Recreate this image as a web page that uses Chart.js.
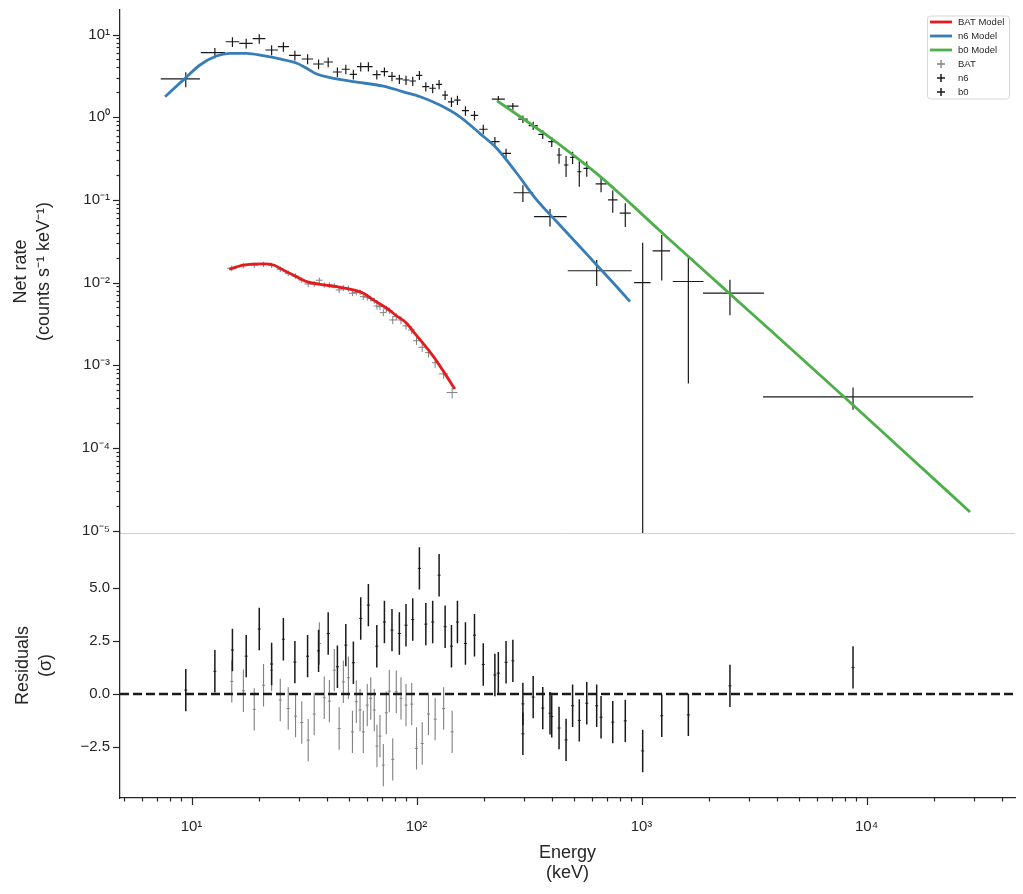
<!DOCTYPE html>
<html><head><meta charset="utf-8">
<script src="https://cdn.jsdelivr.net/npm/chart.js@4/dist/chart.umd.min.js"></script>
<style>
html,body{margin:0;padding:0;background:#fff;}
#wrap{position:relative;width:1023px;height:894px;overflow:hidden;background:#fff;}
canvas{position:absolute;left:0;}
#cTop{top:0;}
#cBot{top:523px;}
</style></head><body>
<div id="wrap"><canvas id="cTop" width="1023" height="560"></canvas><canvas id="cBot" width="1023" height="371"></canvas></div>
<script>
// ---------------- data ----------------
const xTickValues = [10, 100, 1000, 10000];
const xTickLabels = ['10¹', '10²', '10³', '10⁴'];
const yTickValues = [1e-5, 1e-4, 1e-3, 1e-2, 1e-1, 1, 10];
const yTickLabels = ['10⁻⁵', '10⁻⁴', '10⁻³', '10⁻²', '10⁻¹', '10⁰', '10¹'];
const residTickValues = [-2.5, 0, 2.5, 5];
const residTickLabels = ['−2.5', '0.0', '2.5', '5.0'];

// models
const batModelE = [14.7,17.0,20.8,23.3,24.7,28.3,32.5,37.2,44.2,52.4,58.0,64.3,73.8,81.7,90.4,96.8,107,119,132,148];
const batModelRate = [0.01449,0.0162,0.0168,0.0162,0.0149,0.01236,0.01025,0.00953,0.00891,0.00814,0.00743,0.00617,0.00489,0.00394,0.00322,0.00255,0.00184,0.00127,0.000837,0.000516];
const n6ModelE = [7.63,9.36,10.9,12.9,14.8,17.6,20.8,24.7,29.4,32.5,36.0,41.3,52.4,71.2,87.3,104,127,156,191,227,279,342,420,515,632,776,889];
const n6ModelRate = [1.77,2.95,4.28,5.50,5.93,5.93,5.55,5.06,4.49,3.90,3.33,3.01,2.69,2.38,2.03,1.77,1.40,1.01,0.638,0.421,0.210,0.0998,0.0544,0.0299,0.0163,0.00891,0.00587];
const b0ModelE = [228,288,372,481,621,803,1036,1339,1820,2740,5063,8710,14090,28840];
const b0ModelRate = [1.58,1.02,0.627,0.374,0.217,0.118,0.0621,0.0327,0.01545,0.00566,0.00126,0.000331,1.0e-4,1.68e-5];

// n6 data
const n6E = [9.43,12.7,15.2,17.5,20.0,22.7,25.6,28.8,32.8,36.7,40.5,44.5,48.5,52.4,56.5,61.1,66.6,72.0,77.8,83.9,89.8,96.2,103,110,118,126,134,143,152,165,181,198,223,250,297,392,632];
const n6ELo = [7.30,11.0,14.2,16.3,18.7,21.3,24.2,27.1,30.9,34.7,38.7,42.5,46.5,50.5,54.4,58.8,63.8,69.3,74.8,80.8,86.9,93.0,99.5,106,114,122,130,138,147,159,174,190,212,238,270,333,470];
const n6EHi = [10.9,14.1,16.3,18.7,21.3,24.2,27.1,30.6,34.7,38.7,42.5,46.5,50.5,54.4,58.8,63.8,69.3,74.8,80.8,86.9,93.0,99.5,106,114,122,130,138,147,157,171,188,207,234,263,330,465,904];
const n6Rate = [2.90,6.03,8.18,7.83,8.90,6.50,7.12,5.60,5.06,4.40,4.65,3.52,3.80,3.30,4.08,4.10,3.27,3.55,3.12,2.90,2.82,2.74,3.21,2.34,2.24,2.50,1.85,1.53,1.61,1.20,1.05,0.715,0.506,0.366,0.122,0.0627,0.0139];
const n6RateErr = [0.60,0.85,1.10,1.05,1.15,0.90,0.95,0.75,0.70,0.60,0.62,0.48,0.50,0.44,0.52,0.52,0.42,0.45,0.40,0.37,0.36,0.35,0.40,0.30,0.29,0.32,0.24,0.20,0.21,0.16,0.14,0.095,0.07,0.05,0.028,0.015,0.0048];
const n6Resid = [0.19,1.08,2.08,1.79,3.07,1.42,2.59,1.51,1.79,2.04,2.86,1.29,2.31,1.48,3.57,4.20,2.26,3.40,3.02,2.86,3.25,3.52,5.93,3.30,3.40,5.61,3.18,2.26,3.40,2.39,2.78,1.40,0.90,1.50,-1.87,-0.90,-0.55];

// b0 data
const b0E = [231,268,297,330,364,399,430,462,494,529,571,661,745,847,1012,1230,1615,2472,8710];
const b0ELo = [216,252,283,315,348,385,420,452,482,518,552,625,710,800,927,1120,1377,1875,3470];
const b0EHi = [247,284,312,346,381,414,441,473,506,541,590,700,782,895,1097,1340,1885,3500,29800];
const b0Rate = [1.65,1.36,0.95,0.79,0.62,0.506,0.349,0.264,0.327,0.219,0.241,0.156,0.0998,0.069,0.00999,0.0241,0.0103,0.00743,0.000414];
const b0RateErr = [0.15,0.13,0.10,0.09,0.075,0.07,0.075,0.075,0.055,0.075,0.05,0.032,0.03,0.022,0.0204,0.0135,0.0097,0.0034,0.000125];
const b0Resid = [0.99,1.57,-0.46,-0.14,-0.66,-1.05,-1.60,-2.16,-0.55,-1.24,-0.43,-1.09,-1.32,-1.26,-2.68,-1.02,-0.98,0.39,1.26];

// BAT data
const batE = [15.1,17.0,19.0,20.9,22.7,24.8,26.9,29.0,30.9,33.0,35.1,37.0,38.9,41.0,43.1,45.3,47.3,49.8,51.9,54.0,56.1,58.0,60.4,62.6,64.9,66.7,68.8,71.2,73.4,75.7,78.4,81.3,85.3,89.8,95.2,100,106,113,121,132,144];
const batELo = [14.4,16.4,18.3,20.2,21.9,23.9,26.0,28.0,29.8,31.8,33.9,35.7,37.5,39.6,41.6,43.7,45.6,48.1,50.1,52.1,54.1,56.0,58.3,60.4,62.6,64.4,66.4,68.7,70.8,73.1,75.7,78.5,82.3,86.7,91.9,96.5,102,109,117,126,136];
const batEHi = [15.9,17.6,19.7,21.6,23.5,25.7,27.8,30.0,32.0,34.2,36.3,38.3,40.3,42.4,44.6,46.9,49.0,51.5,53.7,55.9,58.1,60.0,62.5,64.8,67.2,69.0,71.2,73.7,76.0,78.3,81.1,84.1,88.3,92.9,98.5,103.5,110,117,125,138,152];
const batRate = [0.0149,0.0160,0.0162,0.0166,0.0162,0.0145,0.01295,0.0120,0.01075,0.0096,0.0096,0.01067,0.00935,0.00935,0.00918,0.00815,0.0086,0.0085,0.00743,0.00759,0.00763,0.00676,0.00664,0.00643,0.00604,0.00521,0.00512,0.00433,0.0048,0.00457,0.00353,0.00387,0.00353,0.00299,0.00267,0.00198,0.00165,0.00142,0.00107,0.000785,0.000467];
const batRateErr = [0.0012,0.0012,0.0012,0.0012,0.0012,0.0011,0.0010,0.0009,0.0008,0.0008,0.0008,0.0008,0.0007,0.0007,0.0007,0.0007,0.0007,0.0007,0.0006,0.0006,0.0006,0.0006,0.0006,0.0005,0.0005,0.0005,0.0005,0.0004,0.0004,0.0004,0.0004,0.0004,0.0004,0.0003,0.0003,0.00022,0.0002,0.00018,0.00014,0.0001,0.00007];
const batResid = [0.6,0.16,-0.72,0.42,1.13,-0.28,-0.68,-1.04,-1.34,-2.17,-0.94,2.39,-0.17,-0.33,1.13,-1.62,0.58,0.77,-1.78,-0.36,-0.75,-1.78,-0.52,-0.2,-0.75,-2.45,-1.98,-3.35,-0.88,0.14,-3.08,0.11,-0.2,-0.52,-0.47,-2.56,-2.33,-0.94,-1.18,-0.68,-1.78];

// ---------------- styling ----------------
const X_MIN = 4.81, X_MAX = 45700;
const Y_MIN = 9.35e-6, Y_MAX = 19.8;
const R_MIN = -4.9, R_MAX = 7.6;
const INK = '#262626';
const RED = '#e41a1c', BLUE = '#377eb8', GREEN = '#4daf4a';
const GRAY = '#808080', BLACK = '#1a1a1a';
Chart.defaults.font.family = "'Liberation Sans', Arial, Helvetica, sans-serif";
Chart.defaults.color = INK;

// ---------------- helpers ----------------
function zip(xs, ys) { return xs.map((x, i) => ({x: x, y: ys[i]})); }
function xErr(E, lo, hi, r) {
  const out = [];
  E.forEach((e, i) => { out.push({x: lo[i], y: r[i]}, {x: hi[i], y: r[i]}, {x: e, y: null}); });
  return out;
}
function yErr(E, r, err) {
  const out = [];
  E.forEach((e, i) => {
    let low = r[i] - err[i];
    if (low <= 0) low = 1e-9;
    out.push({x: e, y: low}, {x: e, y: r[i] + err[i]}, {x: e, y: null});
  });
  return out;
}
function residBars(E, res) {
  const out = [];
  E.forEach((e, i) => { out.push({x: e, y: res[i] - 1}, {x: e, y: res[i] + 1}, {x: e, y: null}); });
  return out;
}
function logTickList(min, max) {
  const t = [];
  for (let e = Math.floor(Math.log10(min)); e <= Math.ceil(Math.log10(max)); e++) {
    for (let m = 1; m <= 9; m++) {
      const v = m * Math.pow(10, e);
      if (v >= min * 0.99999 && v <= max * 1.00001) t.push({value: v, major: m === 1});
    }
  }
  return t;
}
function labelFor(values, labels) {
  return function (v) {
    const i = values.findIndex(t => Math.abs(t - v) <= Math.abs(t) * 1e-6 + 1e-12);
    return i >= 0 ? labels[i] : '';
  };
}
function noPad(s) { s.paddingTop = 0; s.paddingBottom = 0; s.paddingLeft = 0; s.paddingRight = 0; }
function lineDs(label, data, color, width, order, extra) {
  return Object.assign({label: label, data: data, borderColor: color, backgroundColor: color,
    borderWidth: width, pointRadius: 0, pointHoverRadius: 0, fill: false, tension: 0,
    spanGaps: false, order: order}, extra || {});
}

// ---------------- plugins ----------------
const tickMarks = {
  id: 'tickMarks',
  afterDraw(chart, args, o) {
    const ctx = chart.ctx;
    ctx.save();
    ctx.strokeStyle = o.color; ctx.lineWidth = o.width;
    (o.axes || []).forEach(id => {
      const s = chart.scales[id];
      s.ticks.forEach(t => {
        const len = t.major ? o.majorLen : o.minorLen;
        const p = Math.round(s.getPixelForValue(t.value)) + 0.5;
        ctx.beginPath();
        if (s.isHorizontal()) { ctx.moveTo(p, s.top); ctx.lineTo(p, s.top + len); }
        else { ctx.moveTo(s.right, p); ctx.lineTo(s.right - len, p); }
        ctx.stroke();
      });
    });
    ctx.restore();
  }
};
const edgeLine = {
  id: 'edgeLine',
  afterDraw(chart, args, o) {
    if (!o.color) return;
    const ctx = chart.ctx, ca = chart.chartArea;
    ctx.save();
    ctx.strokeStyle = o.color; ctx.lineWidth = 1;
    const y = Math.round(ca.bottom) + 0.5;
    ctx.beginPath(); ctx.moveTo(ca.left, y); ctx.lineTo(ca.right, y); ctx.stroke();
    ctx.restore();
  }
};
const cornerLegend = {
  id: 'cornerLegend',
  afterDraw(chart, args, o) {
    if (!o.show) return;
    const ctx = chart.ctx, ca = chart.chartArea;
    const items = chart.data.datasets.filter(d => d.legendKind);
    const w = 82, rowH = 14;
    const left = ca.right - 6 - w, top = 15.5;
    const h = 13 + (items.length - 1) * rowH;
    ctx.save();
    ctx.fillStyle = 'rgba(255,255,255,0.85)';
    ctx.strokeStyle = '#d6d6d6'; ctx.lineWidth = 1;
    ctx.beginPath();
    if (ctx.roundRect) ctx.roundRect(left + 0.5, top + 0.5, w, h, 3); else ctx.rect(left + 0.5, top + 0.5, w, h);
    ctx.fill(); ctx.stroke();
    ctx.font = "9.5px 'Liberation Sans', Arial, sans-serif";
    ctx.textBaseline = 'middle'; ctx.textAlign = 'left';
    items.forEach((d, i) => {
      const y = top + 6.5 + i * rowH;
      if (d.legendKind === 'line') {
        ctx.strokeStyle = d.borderColor; ctx.lineWidth = 2.8;
        ctx.beginPath(); ctx.moveTo(left + 3, y); ctx.lineTo(left + 25, y); ctx.stroke();
      } else {
        ctx.strokeStyle = d.borderColor; ctx.lineWidth = d.borderWidth + 0.3;
        const cx = left + 14;
        ctx.beginPath();
        ctx.moveTo(cx - 4, y); ctx.lineTo(cx + 4, y);
        ctx.moveTo(cx, y - 4); ctx.lineTo(cx, y + 4);
        ctx.stroke();
      }
      ctx.fillStyle = INK;
      ctx.fillText(d.label, left + 31, y);
    });
    ctx.restore();
  }
};

// ---------------- top chart ----------------
const topDatasets = [
  lineDs('BAT Model', zip(batModelE, batModelRate), RED, 2.8, 0, {cubicInterpolationMode: 'monotone', legendKind: 'line'}),
  lineDs('n6 Model', zip(n6ModelE, n6ModelRate), BLUE, 2.8, 0, {cubicInterpolationMode: 'monotone', legendKind: 'line'}),
  lineDs('b0 Model', zip(b0ModelE, b0ModelRate), GREEN, 2.8, 0, {cubicInterpolationMode: 'monotone', legendKind: 'line'}),
  lineDs('BAT', xErr(batE, batELo, batEHi, batRate), GRAY, 1.0, 2, {legendKind: 'cross'}),
  lineDs('BAT rate error', yErr(batE, batRate, batRateErr), GRAY, 1.0, 2),
  lineDs('n6', xErr(n6E, n6ELo, n6EHi, n6Rate), BLACK, 1.2, 1, {legendKind: 'cross'}),
  lineDs('n6 rate error', yErr(n6E, n6Rate, n6RateErr), BLACK, 1.2, 1),
  lineDs('b0', xErr(b0E, b0ELo, b0EHi, b0Rate), BLACK, 1.2, 1, {legendKind: 'cross'}),
  lineDs('b0 rate error', yErr(b0E, b0Rate, b0RateErr), BLACK, 1.2, 1)
];

new Chart(document.getElementById('cTop'), {
  type: 'line',
  data: {datasets: topDatasets},
  options: {
    responsive: false, maintainAspectRatio: false, animation: false, devicePixelRatio: 1,
    layout: {padding: {top: 10, right: 8, bottom: 27, left: 0}, autoPadding: false},
    events: [],
    plugins: {
      legend: {display: false}, tooltip: {enabled: false},
      tickMarks: {axes: ['y'], majorLen: 7, minorLen: 3.5, color: INK, width: 1.2},
      edgeLine: {color: '#cfcfcf'},
      cornerLegend: {show: true}
    },
    scales: {
      x: {type: 'logarithmic', min: X_MIN, max: X_MAX, bounds: 'data', display: false},
      y: {
        type: 'logarithmic', min: Y_MIN, max: Y_MAX, bounds: 'data',
        afterBuildTicks: s => { s.ticks = logTickList(s.min, s.max); },
        afterFit: s => { s.width = 120; noPad(s); },
        grid: {display: false, drawTicks: false},
        border: {display: true, color: INK, width: 1.25},
        ticks: {autoSkip: false, padding: 10, color: INK, font: {size: 15}, callback: labelFor(yTickValues, yTickLabels)},
        title: {display: true, text: ['Net rate', '(counts s⁻¹ keV⁻¹)'], color: INK, font: {size: 18, lineHeight: 1.3}, padding: {top: 9, bottom: 0}}
      }
    }
  },
  plugins: [tickMarks, edgeLine, cornerLegend]
});

// ---------------- residual chart ----------------
const botDatasets = [
  lineDs('zero', [{x: X_MIN, y: 0}, {x: X_MAX, y: 0}], BLACK, 2.5, 0, {borderDash: [9, 4]}),
  lineDs('BAT residuals', residBars(batE, batResid), GRAY, 1.1, 2),
  lineDs('BAT residual points', zip(batE, batResid), GRAY, 1, 2, {showLine: false, pointRadius: 1.5, pointStyle: 'line', pointBorderColor: GRAY, pointBorderWidth: 1}),
  lineDs('n6 residuals', residBars(n6E, n6Resid), BLACK, 1.5, 1),
  lineDs('n6 residual points', zip(n6E, n6Resid), BLACK, 1, 1, {showLine: false, pointRadius: 1.5, pointStyle: 'line', pointBorderColor: BLACK, pointBorderWidth: 1}),
  lineDs('b0 residuals', residBars(b0E, b0Resid), BLACK, 1.5, 1),
  lineDs('b0 residual points', zip(b0E, b0Resid), BLACK, 1, 1, {showLine: false, pointRadius: 1.5, pointStyle: 'line', pointBorderColor: BLACK, pointBorderWidth: 1})
];

new Chart(document.getElementById('cBot'), {
  type: 'line',
  data: {datasets: botDatasets},
  options: {
    responsive: false, maintainAspectRatio: false, animation: false, devicePixelRatio: 1,
    layout: {padding: {top: 10, right: 8, bottom: 0, left: 0}, autoPadding: false},
    events: [],
    plugins: {
      legend: {display: false}, tooltip: {enabled: false},
      tickMarks: {axes: ['x', 'y'], majorLen: 7, minorLen: 3.5, color: INK, width: 1.2},
      edgeLine: {color: null},
      cornerLegend: {show: false}
    },
    scales: {
      x: {
        type: 'logarithmic', min: X_MIN, max: X_MAX, bounds: 'data',
        afterBuildTicks: s => { s.ticks = logTickList(s.min, s.max); },
        afterFit: s => { s.height = 96; noPad(s); },
        grid: {display: false, drawTicks: false},
        border: {display: true, color: INK, width: 1.25},
        ticks: {autoSkip: false, maxRotation: 0, minRotation: 0, padding: 20, color: INK, font: {size: 15}, callback: labelFor(xTickValues, xTickLabels)},
        title: {display: true, text: ['Energy', '(keV)'], color: INK, font: {size: 18, lineHeight: 1.12}, padding: {top: 0, bottom: 11}}
      },
      y: {
        type: 'linear', min: R_MIN, max: R_MAX, bounds: 'data',
        afterBuildTicks: s => { s.ticks = residTickValues.map(v => ({value: v, major: true})); },
        afterFit: s => { s.width = 120; noPad(s); },
        grid: {display: false, drawTicks: false},
        border: {display: true, color: INK, width: 1.25},
        ticks: {autoSkip: false, padding: 10, color: INK, font: {size: 15}, callback: labelFor(residTickValues, residTickLabels)},
        title: {display: true, text: ['Residuals', '(σ)'], color: INK, font: {size: 18, lineHeight: 1.3}, padding: {top: 11, bottom: 0}}
      }
    }
  },
  plugins: [tickMarks, edgeLine]
});
</script>
</body></html>
